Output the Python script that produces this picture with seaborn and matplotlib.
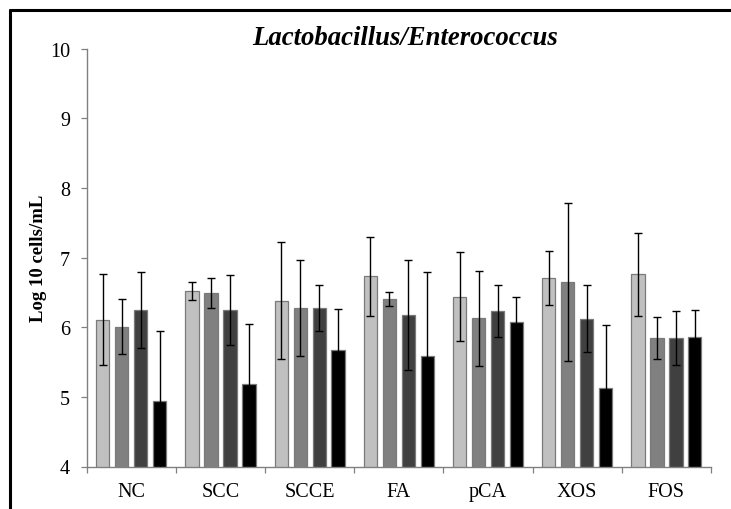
import numpy as np
import pandas as pd
import matplotlib
matplotlib.use("Agg")
import matplotlib.pyplot as plt
from matplotlib.lines import Line2D
from matplotlib.container import BarContainer
import seaborn as sns

categories = ["NC", "SCC", "SCCE", "FA", "pCA", "XOS", "FOS"]
series_names = ["S1", "S2", "S3", "S4"]
s1_mean = [6.11, 6.52, 6.38, 6.73, 6.44, 6.71, 6.76]
s2_mean = [6.01, 6.49, 6.28, 6.40, 6.13, 6.65, 5.85]
s3_mean = [6.25, 6.25, 6.28, 6.18, 6.23, 6.12, 5.85]
s4_mean = [4.94, 5.18, 5.67, 5.59, 6.07, 5.13, 5.86]
s1_err = [0.65, 0.13, 0.84, 0.57, 0.64, 0.39, 0.60]
s2_err = [0.40, 0.22, 0.69, 0.10, 0.68, 1.13, 0.30]
s3_err = [0.55, 0.50, 0.33, 0.79, 0.37, 0.48, 0.39]
s4_err = [1.01, 0.87, 0.59, 1.20, 0.37, 0.90, 0.39]
colors = ["#c0c0c0", "#808080", "#404040", "#000000"]
title = "Lactobacillus/Enterococcus"
ylabel = "Log 10 cells/mL"
yticks = [4, 5, 6, 7, 8, 9, 10]

means = [s1_mean, s2_mean, s3_mean, s4_mean]
errs = [s1_err, s2_err, s3_err, s4_err]

rows = []
for name, m in zip(series_names, means):
    for c, v in zip(categories, m):
        rows.append({"cat": c, "series": name, "value": v})
df = pd.DataFrame(rows)

sns.set_theme(style="white")
plt.rcParams["font.family"] = ["Liberation Serif", "DejaVu Serif"]
plt.rcParams["text.color"] = "black"
plt.rcParams["axes.labelcolor"] = "black"
plt.rcParams["xtick.color"] = "black"
plt.rcParams["ytick.color"] = "black"

fig = plt.figure(figsize=(7.31, 5.10), dpi=100)
ax = fig.add_axes([86.7 / 731, 1 - 467.5 / 510, (711 - 86.7) / 731, (467.5 - 49.8) / 510])

sns.barplot(data=df, x="cat", y="value", hue="series", order=categories,
            hue_order=series_names, palette=colors, width=0.85, gap=0.3,
            errorbar=None, legend=False, edgecolor="#7a7a7a", linewidth=0.9,
            ax=ax)

bar_conts = [c for c in ax.containers if isinstance(c, BarContainer)]
for i, cont in enumerate(bar_conts):
    xs = [b.get_x() + b.get_width() / 2 for b in cont]
    hs = [b.get_height() for b in cont]
    ax.errorbar(xs, hs, yerr=errs[i], fmt="none", ecolor="black",
                elinewidth=1.0, capsize=2.8, capthick=1.0, zorder=5)

ax.set_ylim(4, 10)
ax.set_xlim(-0.5, len(categories) - 0.5)
ax.set_yticks(yticks)
ax.set_yticklabels([str(t) for t in yticks], fontsize=14.5)
ax.set_xticks(range(len(categories)))
ax.set_xticklabels(categories, fontsize=14.5)
ax.set_xticks(np.arange(-0.5, len(categories)), minor=True)
ax.tick_params(axis="x", which="major", length=0, pad=11)
ax.tick_params(axis="x", which="minor", length=4.5, width=0.9, color="#808080", direction="out", bottom=True)
ax.tick_params(axis="y", which="major", length=4, width=0.9, color="#808080", direction="out", left=True, pad=8)
ax.set_xlabel("")
ax.set_ylabel(ylabel, fontsize=13.5, fontweight="bold", labelpad=2)
for s in ["top", "right"]:
    ax.spines[s].set_visible(False)
for s in ["left", "bottom"]:
    ax.spines[s].set_color("#808080")
    ax.spines[s].set_linewidth(1.0)
ax.grid(False)

fig.text(405 / 731, 1 - 39 / 510, title, ha="center", va="center", fontsize=19.3,
         fontweight="bold", fontstyle="italic")

fig.add_artist(Line2D([9.5 / 731, 9.5 / 731], [0, 1 - 10.5 / 510], color="black", lw=2.2))
fig.add_artist(Line2D([9.5 / 731, 1], [1 - 10.5 / 510, 1 - 10.5 / 510], color="black", lw=2.2))

fig.savefig("out.png", dpi=100, facecolor="white")
